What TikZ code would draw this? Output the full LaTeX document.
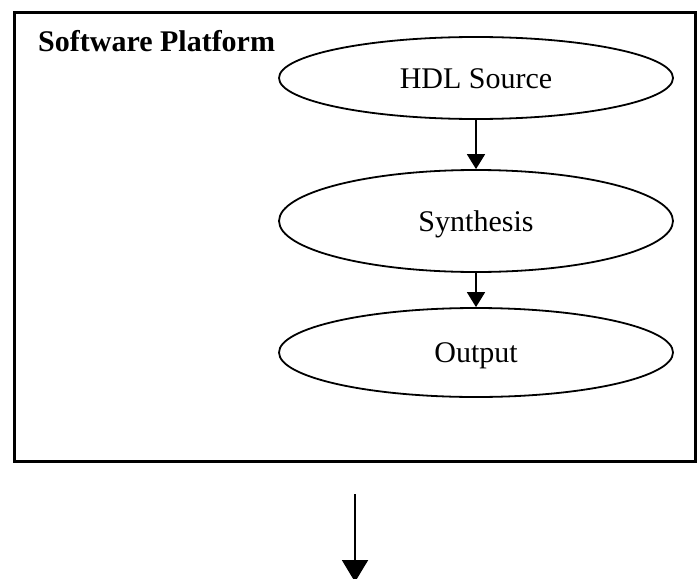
\documentclass[tikz,border=0pt]{standalone}
\usepackage{fontspec}
\setmainfont{Liberation Serif}
\usetikzlibrary{arrows.meta,shapes.geometric}
\begin{document}
\begin{tikzpicture}[x=1pt,y=-1pt,
  stage/.style={draw, line width=1.8pt, ellipse, inner sep=0pt,
    minimum width=394pt, font=\fontsize{30}{36}\selectfont,
    text height=20pt, text depth=0pt},
  flow/.style={line width=1.8pt, -{Triangle[width=18pt,length=15pt]}},
  bigflow/.style={line width=2pt, -{Triangle[width=26pt,length=22pt]}}]
  \useasboundingbox (0,0) rectangle (700,578);
  % platform frame
  \draw[line width=3pt] (14,13) rectangle (695,461);
  \node[anchor=base west, inner sep=0pt, font=\fontsize{30}{36}\selectfont\bfseries]
    (title) at (38,52) {Software Platform};
  % flow stages
  \node[stage, minimum height=82pt] (hdl) at (476,78) {HDL Source};
  \node[stage, minimum height=102pt] (syn) at (476,221) {Synthesis};
  \node[stage, minimum height=89pt] (out) at (476,352.5) {Output};
  \draw[flow] (hdl) -- (syn);
  \draw[flow] (syn) -- (out);
  % result leaving the platform
  \coordinate (exitS) at (355,494);
  \coordinate (exitE) at (355,582);
  \draw[bigflow] (exitS) -- (exitE);
\end{tikzpicture}
\end{document}
